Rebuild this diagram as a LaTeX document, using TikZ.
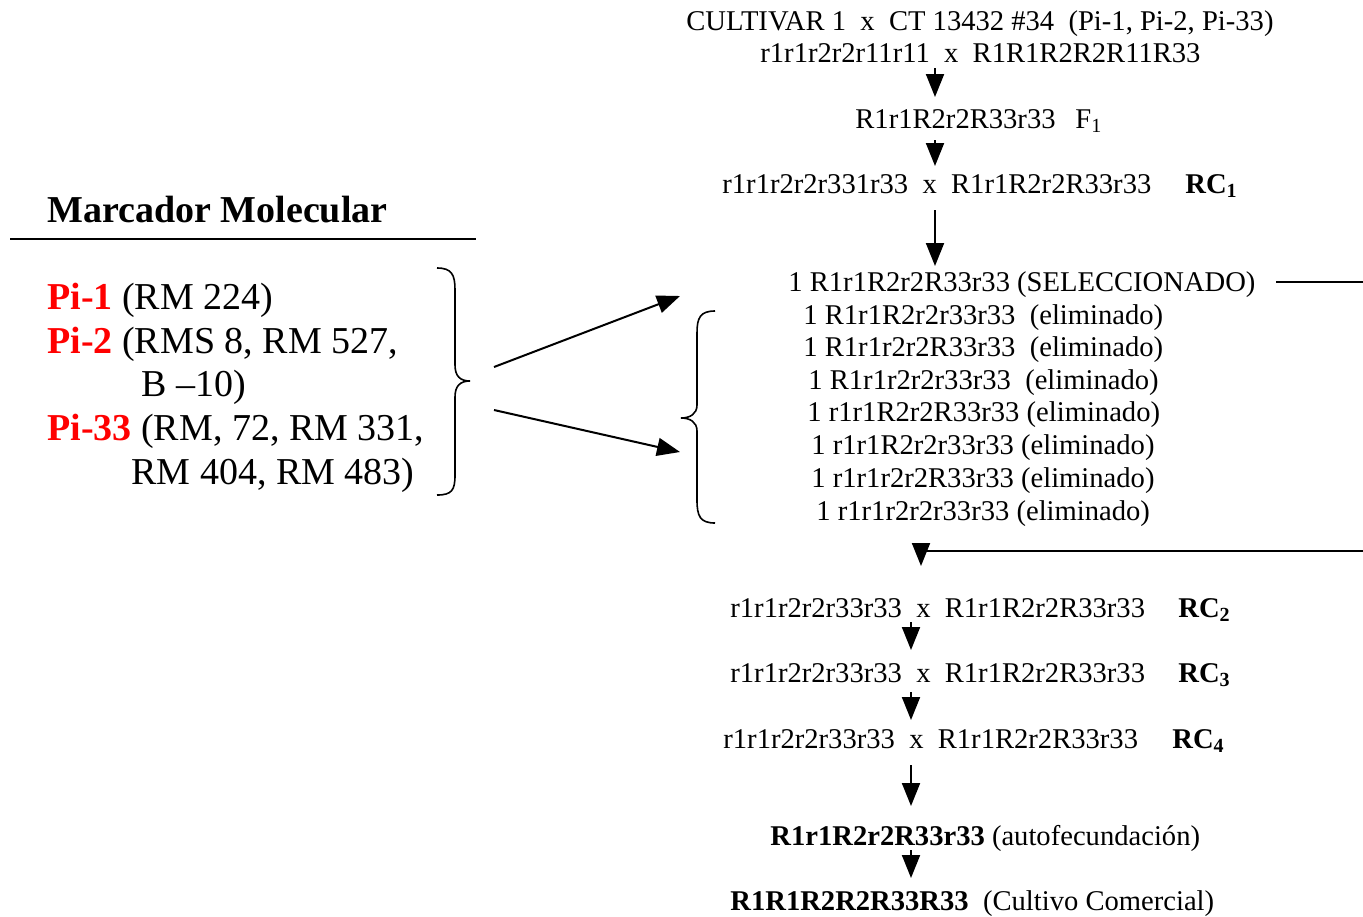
\documentclass[tikz,border=0pt]{standalone}
\usepackage{fontspec}
\setmainfont{Liberation Serif}
\usetikzlibrary{arrows.meta}
\tikzset{
  px/.style={x=0.5pt,y=-0.5pt},
  rtext/.style={anchor=base west,inner sep=0pt,font=\fontsize{14.3}{16}\selectfont},
  ltext/.style={anchor=base west,inner sep=0pt,font=\fontsize{19}{22}\selectfont},
  rclab/.style={anchor=base west,inner sep=0pt,font=\fontsize{14.3}{16}\selectfont\bfseries},
  arr/.style={line width=1pt,-{Triangle[length=11.5pt,width=9pt]}},
  plain/.style={line width=1pt},
  brace/.style={line width=0.8pt},
}
\definecolor{pired}{RGB}{255,0,0}
\begin{document}
\begin{tikzpicture}[px]
\useasboundingbox (0,0) rectangle (1363,916);
% ---------- left block ----------
\node[ltext,font=\fontsize{19}{22}\selectfont\bfseries] (title) at (47,222) {Marcador Molecular};
\coordinate (ul1) at (10,239);
\coordinate (ul2) at (476,239);
\draw[plain] (ul1) -- (ul2);
\node[ltext] (pi1) at (47,309) {\textcolor{pired}{\textbf{Pi-1}} (RM 224)};
\node[ltext] (pi2) at (47,353) {\textcolor{pired}{\textbf{Pi-2}} (RMS 8, RM 527,};
\node[ltext] (pi2b) at (141,396) {B --10)};
\node[ltext] (pi33) at (47,440) {\textcolor{pired}{\textbf{Pi-33}} (RM, 72, RM 331,};
\node[ltext] (pi33b) at (131,484) {RM 404, RM 483)};
% right-facing brace
\draw[brace] (437,268) .. controls (452,268) and (455,275) .. (455,290) -- (455,365)
  .. controls (455,376) and (460,381) .. (470,381)
  .. controls (460,381) and (455,386) .. (455,397) -- (455,475)
  .. controls (455,490) and (452,495) .. (437,495);
\coordinate (la1) at (494,367);
\coordinate (la1e) at (680,296);
\coordinate (la2) at (494,410);
\coordinate (la2e) at (680,452);
\draw[arr] (la1) -- (la1e);
\draw[arr] (la2) -- (la2e);
% ---------- right block ----------
\node[rtext] (l1) at (686,30) {CULTIVAR 1\ \ x\ \ CT 13432 \#34\ \ (Pi-1, Pi-2, Pi-33)};
\node[rtext] (l2) at (760,62) {r1r1r2r2r11r11\ \ x\ \ R1R1R2R2R11R33};
\node[rtext] (f1) at (855,128) {R1r1R2r2R33r33};
\node[rtext] (f1l) at (1075,128) {F\textsubscript{1}};
\node[rtext] (rc1) at (722,193) {r1r1r2r2r331r33\ \ x\ \ R1r1R2r2R33r33};
\node[rclab] (rc1l) at (1185,193) {RC\textsubscript{1}};
\node[rtext] (sel) at (788,291) {1 R1r1R2r2R33r33 (SELECCIONADO)};
\node[rtext] (e1) at (803,324) {1 R1r1R2r2r33r33\ \ (eliminado)};
\node[rtext] (e2) at (803,356) {1 R1r1r2r2R33r33\ \ (eliminado)};
\node[rtext] (e3) at (808,389) {1 R1r1r2r2r33r33\ \ (eliminado)};
\node[rtext] (e4) at (807,421) {1 r1r1R2r2R33r33 (eliminado)};
\node[rtext] (e5) at (811,454) {1 r1r1R2r2r33r33 (eliminado)};
\node[rtext] (e6) at (811,487) {1 r1r1r2r2R33r33 (eliminado)};
\node[rtext] (e7) at (816,520) {1 r1r1r2r2r33r33 (eliminado)};
% left-facing brace
\draw[brace] (715,311) .. controls (700,311) and (697,318) .. (697,333) -- (697,405)
  .. controls (697,414) and (690,418) .. (681,418)
  .. controls (690,418) and (697,422) .. (697,431) -- (697,500)
  .. controls (697,516) and (700,523) .. (715,523);
\node[rtext] (rc2) at (730,617) {r1r1r2r2r33r33\ \ x\ \ R1r1R2r2R33r33};
\node[rclab] (rc2l) at (1178,617) {RC\textsubscript{2}};
\node[rtext] (rc3) at (730,682) {r1r1r2r2r33r33\ \ x\ \ R1r1R2r2R33r33};
\node[rclab] (rc3l) at (1178,682) {RC\textsubscript{3}};
\node[rtext] (rc4) at (723,748) {r1r1r2r2r33r33\ \ x\ \ R1r1R2r2R33r33};
\node[rclab] (rc4l) at (1172,748) {RC\textsubscript{4}};
\node[rtext] (auto) at (770,845) {\textbf{R1r1R2r2R33r33} (autofecundación)};
\node[rtext] (com) at (730,910) {\textbf{R1R1R2R2R33R33}\ \ (Cultivo Comercial)};
% arrows
\coordinate (a1s) at (935,68);  \coordinate (a1e) at (935,97);
\coordinate (a2s) at (935,140); \coordinate (a2e) at (935,166);
\coordinate (a3s) at (935,210); \coordinate (a3e) at (935,266);
\draw[arr] (a1s) -- (a1e);
\draw[arr] (a2s) -- (a2e);
\draw[arr] (a3s) -- (a3e);
\coordinate (s1) at (1276,282); \coordinate (s2) at (1363,282);
\draw[plain] (s1) -- (s2);
\coordinate (r1) at (1363,551); \coordinate (r2) at (921,551);
\coordinate (r3) at (921,566);
\draw[plain] (r1) -- (r2);
\draw[arr] (r2) -- (r3);
\coordinate (a5s) at (911,622); \coordinate (a5e) at (911,650);
\coordinate (a6s) at (911,692); \coordinate (a6e) at (911,720);
\coordinate (a7s) at (911,765); \coordinate (a7e) at (911,806);
\coordinate (a8s) at (911,850); \coordinate (a8e) at (911,878);
\draw[arr] (a5s) -- (a5e);
\draw[arr] (a6s) -- (a6e);
\draw[arr] (a7s) -- (a7e);
\draw[arr] (a8s) -- (a8e);
\end{tikzpicture}
\end{document}
